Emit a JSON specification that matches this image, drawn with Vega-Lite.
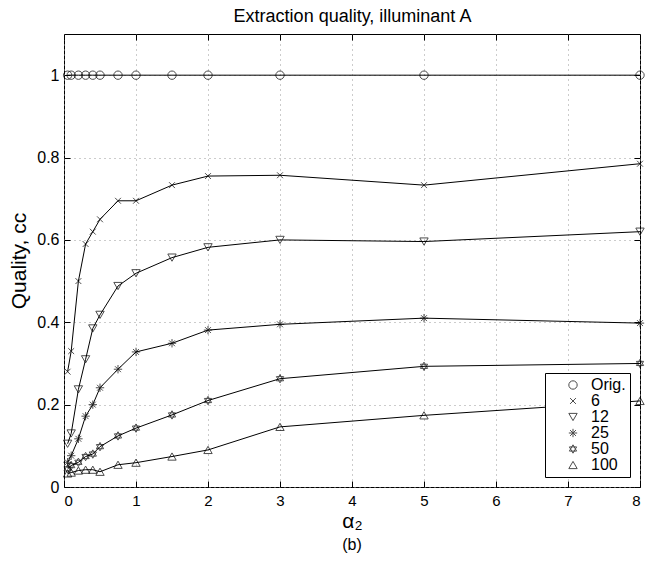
{
  "$schema": "https://vega.github.io/schema/vega-lite/v6.json",
  "width": 576,
  "height": 453,
  "padding": {"left": 8, "top": 7, "right": 15, "bottom": 5},
  "background": "white",
  "config": {
    "font": "Liberation Sans",
    "view": {"stroke": "black", "strokeWidth": 1},
    "axis": {"domain": false, "tickColor": "black", "tickWidth": 1, "labelColor": "black", "titleColor": "black", "gridColor": "#999999", "gridDash": [1, 4], "gridWidth": 1}
  },
  "title": {"text": "(b)", "orient": "bottom", "fontSize": 16, "fontWeight": "normal", "offset": 6, "anchor": "middle"},
  "data": {"values": [
    {"a": 0.05, "q": 1, "s": "Orig."}, {"a": 0.1, "q": 1, "s": "Orig."}, {"a": 0.2, "q": 1, "s": "Orig."}, {"a": 0.3, "q": 1, "s": "Orig."}, {"a": 0.4, "q": 1, "s": "Orig."}, {"a": 0.5, "q": 1, "s": "Orig."}, {"a": 0.75, "q": 1, "s": "Orig."}, {"a": 1, "q": 1, "s": "Orig."}, {"a": 1.5, "q": 1, "s": "Orig."}, {"a": 2, "q": 1, "s": "Orig."}, {"a": 3, "q": 1, "s": "Orig."}, {"a": 5, "q": 1, "s": "Orig."}, {"a": 8, "q": 1, "s": "Orig."},
    {"a": 0.05, "q": 0.28, "s": "6"}, {"a": 0.1, "q": 0.33, "s": "6"}, {"a": 0.2, "q": 0.5, "s": "6"}, {"a": 0.3, "q": 0.59, "s": "6"}, {"a": 0.4, "q": 0.62, "s": "6"}, {"a": 0.5, "q": 0.65, "s": "6"}, {"a": 0.75, "q": 0.695, "s": "6"}, {"a": 1, "q": 0.695, "s": "6"}, {"a": 1.5, "q": 0.733, "s": "6"}, {"a": 2, "q": 0.755, "s": "6"}, {"a": 3, "q": 0.757, "s": "6"}, {"a": 5, "q": 0.733, "s": "6"}, {"a": 8, "q": 0.785, "s": "6"},
    {"a": 0.05, "q": 0.105, "s": "12"}, {"a": 0.1, "q": 0.13, "s": "12"}, {"a": 0.2, "q": 0.237, "s": "12"}, {"a": 0.3, "q": 0.31, "s": "12"}, {"a": 0.4, "q": 0.385, "s": "12"}, {"a": 0.5, "q": 0.418, "s": "12"}, {"a": 0.75, "q": 0.488, "s": "12"}, {"a": 1, "q": 0.519, "s": "12"}, {"a": 1.5, "q": 0.557, "s": "12"}, {"a": 2, "q": 0.582, "s": "12"}, {"a": 3, "q": 0.6, "s": "12"}, {"a": 5, "q": 0.596, "s": "12"}, {"a": 8, "q": 0.62, "s": "12"},
    {"a": 0.05, "q": 0.06, "s": "25"}, {"a": 0.1, "q": 0.076, "s": "25"}, {"a": 0.2, "q": 0.117, "s": "25"}, {"a": 0.3, "q": 0.172, "s": "25"}, {"a": 0.4, "q": 0.2, "s": "25"}, {"a": 0.5, "q": 0.241, "s": "25"}, {"a": 0.75, "q": 0.286, "s": "25"}, {"a": 1, "q": 0.328, "s": "25"}, {"a": 1.5, "q": 0.349, "s": "25"}, {"a": 2, "q": 0.381, "s": "25"}, {"a": 3, "q": 0.395, "s": "25"}, {"a": 5, "q": 0.41, "s": "25"}, {"a": 8, "q": 0.398, "s": "25"},
    {"a": 0.05, "q": 0.044, "s": "50"}, {"a": 0.1, "q": 0.052, "s": "50"}, {"a": 0.2, "q": 0.06, "s": "50"}, {"a": 0.3, "q": 0.074, "s": "50"}, {"a": 0.4, "q": 0.08, "s": "50"}, {"a": 0.5, "q": 0.098, "s": "50"}, {"a": 0.75, "q": 0.124, "s": "50"}, {"a": 1, "q": 0.143, "s": "50"}, {"a": 1.5, "q": 0.175, "s": "50"}, {"a": 2, "q": 0.21, "s": "50"}, {"a": 3, "q": 0.263, "s": "50"}, {"a": 5, "q": 0.293, "s": "50"}, {"a": 8, "q": 0.3, "s": "50"},
    {"a": 0.05, "q": 0.033, "s": "100"}, {"a": 0.1, "q": 0.035, "s": "100"}, {"a": 0.2, "q": 0.04, "s": "100"}, {"a": 0.3, "q": 0.042, "s": "100"}, {"a": 0.4, "q": 0.042, "s": "100"}, {"a": 0.5, "q": 0.037, "s": "100"}, {"a": 0.75, "q": 0.054, "s": "100"}, {"a": 1, "q": 0.059, "s": "100"}, {"a": 1.5, "q": 0.074, "s": "100"}, {"a": 2, "q": 0.09, "s": "100"}, {"a": 3, "q": 0.146, "s": "100"}, {"a": 5, "q": 0.174, "s": "100"}, {"a": 8, "q": 0.209, "s": "100"}
  ]},
  "resolve": {"axis": {"x": "independent", "y": "independent"}},
  "layer": [
    {
      "mark": {"type": "line", "color": "black", "strokeWidth": 1},
      "encoding": {
        "x": {"field": "a", "type": "quantitative", "scale": {"domain": [0, 8], "nice": false},
          "axis": {"orient": "bottom", "values": [0, 1, 2, 3, 4, 5, 6, 7, 8], "grid": true, "tickSize": -6, "labelPadding": 12, "labelFontSize": 15, "title": "α₂", "titleFontSize": 21, "titleFontWeight": "normal", "titlePadding": 2}},
        "y": {"field": "q", "type": "quantitative", "scale": {"domain": [0, 1.1], "nice": false, "zero": true},
          "axis": {"orient": "left", "values": [0, 0.2, 0.4, 0.6, 0.8, 1], "format": "~g", "grid": true, "tickSize": -6, "labelPadding": 11, "labelFontSize": 16, "title": "Quality, cc", "titleFontSize": 21, "titleFontWeight": "normal", "titlePadding": 7}},
        "detail": {"field": "s", "type": "nominal"}
      }
    },
    {
      "mark": {"type": "point", "filled": false, "color": "black", "strokeWidth": 1, "size": 70},
      "encoding": {
        "x": {"field": "a", "type": "quantitative", "scale": {"domain": [0, 8], "nice": false},
          "axis": {"orient": "top", "values": [0, 1, 2, 3, 4, 5, 6, 7, 8], "grid": false, "labels": false, "tickSize": -6, "title": "Extraction quality, illuminant A", "titleFontSize": 18, "titleFontWeight": "normal", "titlePadding": 8}},
        "y": {"field": "q", "type": "quantitative", "scale": {"domain": [0, 1.1], "nice": false, "zero": true},
          "axis": {"orient": "right", "values": [0, 0.2, 0.4, 0.6, 0.8, 1], "grid": false, "labels": false, "tickSize": -6, "title": null}},
        "shape": {"field": "s", "type": "nominal",
          "scale": {"domain": ["Orig.", "6", "12", "25", "50", "100"],
            "range": ["circle", "M-0.7,-0.7L0.7,0.7M0.7,-0.7L-0.7,0.7", "triangle-down", "M-1,0L1,0M0,-1L0,1M-0.7,-0.7L0.7,0.7M-0.7,0.7L0.7,-0.7", "M0,-1L0.866,0.5L-0.866,0.5ZM0,1L0.866,-0.5L-0.866,-0.5Z", "triangle-up"]},
          "legend": {"title": null, "orient": "bottom-right", "offset": 10, "fillColor": "white", "strokeColor": "black", "padding": 4, "labelFontSize": 16, "labelColor": "black", "symbolStrokeColor": "black", "symbolFillColor": "transparent", "symbolStrokeWidth": 1, "symbolSize": 70, "symbolOffset": 16, "rowPadding": 0, "labelOffset": 10}}
      }
    }
  ]
}
